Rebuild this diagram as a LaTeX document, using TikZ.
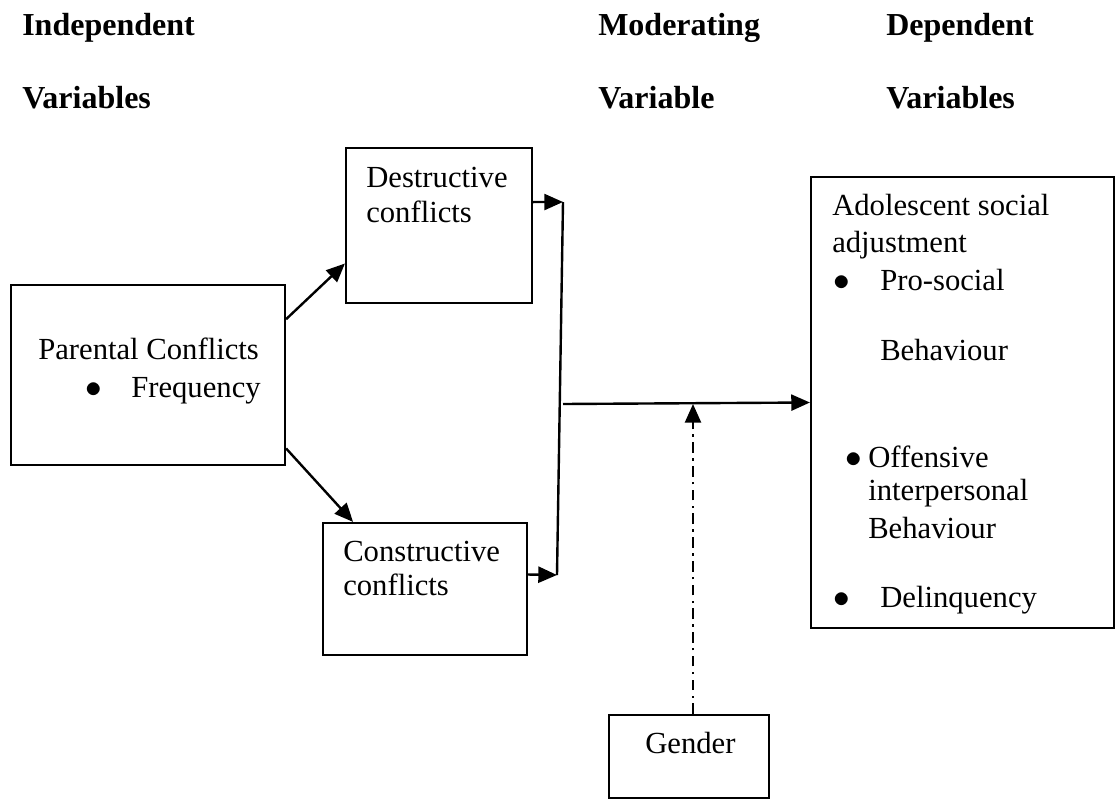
\documentclass[tikz,border=0pt]{standalone}
\usepackage{fontspec}
\setmainfont{Liberation Serif}
\usetikzlibrary{arrows.meta}
\tikzset{
  box/.style={draw, line width=1.6pt, inner sep=0pt},
  txt/.style={anchor=base west, inner sep=0pt, font=\fontsize{23}{28}\selectfont},
  head/.style={txt, font=\fontsize{24}{28}\selectfont\bfseries},
  dot/.style={txt, font=\fontsize{24}{28}\selectfont},
  arr/.style={-{Triangle[length=14pt,width=12pt]}, line width=1.8pt},
  link/.style={line width=1.8pt},
}
\begin{document}
\begin{tikzpicture}[x=0.75pt,y=0.75pt,yscale=-1,xscale=1]
\useasboundingbox (0,0) rectangle (1115,800);

%Shape: Rectangle
\node [box, minimum width=205.5pt, minimum height=135pt] (par) at (148,375) {};
%Shape: Rectangle
\node [box, minimum width=139.5pt, minimum height=116.25pt] (destr) at (439,225.5) {};
%Shape: Rectangle
\node [box, minimum width=153pt, minimum height=99pt] (constr) at (425,589) {};
%Shape: Rectangle
\node [box, minimum width=227.25pt, minimum height=338.25pt] (adol) at (962.5,402.5) {};
%Shape: Rectangle
\node [box, minimum width=120pt, minimum height=62.25pt] (gender) at (689,756.5) {};

\coordinate (jtop) at (563,202);
\coordinate (jbot) at (557,575);
\coordinate (jmid) at (563,404);

%Straight Lines
\draw [arr] (par.22) -- (destr.202);
\draw [arr] (par.-28) -- (constr.137);
\draw [arr] (destr.14) -- (jtop);
\draw [arr] (constr.8) -- (jbot);
\draw [link] (jtop) -- (jbot);
\draw [arr] (jmid) -- (adol.west);
\draw [arr, dash pattern=on 8pt off 4pt on 1.8pt off 4pt] ([xshift=3pt]gender.north) -- ([xshift=3pt]gender.north |- jmid);

% Text Node
\node [head] (hind) at (22,35) {Independent};
\node [head] (hindv) at (22,108) {Variables};
\node [head] (hmod) at (598,35) {Moderating};
\node [head] (hmodv) at (598,108) {Variable};
\node [head] (hdep) at (886,35) {Dependent};
\node [head] (hdepv) at (886,108) {Variables};

% Text Node
\node [txt] (tpar) at (38,359) {Parental Conflicts};
\node [dot] (bpar) at (85,397) {$\bullet$};
\node [txt] (tfreq) at (131,397) {Frequency};
% Text Node
\node [txt] (tdestr) at (366,187) {Destructive};
\node [txt] (tdestr2) at (366,222) {conflicts};
% Text Node
\node [txt] (tconstr) at (343,561) {Constructive};
\node [txt] (tconstr2) at (343,595) {conflicts};
% Text Node
\node [txt] (tgender) at (645,753) {Gender};
% Text Node
\node [txt] (tadol) at (832,215) {Adolescent social};
\node [txt] (tadol2) at (832,252) {adjustment};
\node [dot] (bpro) at (833,290) {$\bullet$};
\node [txt] (tpro) at (880,290) {Pro-social};
\node [txt] (tpro2) at (880,360) {Behaviour};
\node [dot] (boff) at (845,467) {$\bullet$};
\node [txt] (toff) at (868,467) {Offensive};
\node [txt] (toff2) at (868,500) {interpersonal};
\node [txt] (toff3) at (868,538) {Behaviour};
\node [dot] (bdel) at (833,607) {$\bullet$};
\node [txt] (tdel) at (880,607) {Delinquency};

\end{tikzpicture}
\end{document}
